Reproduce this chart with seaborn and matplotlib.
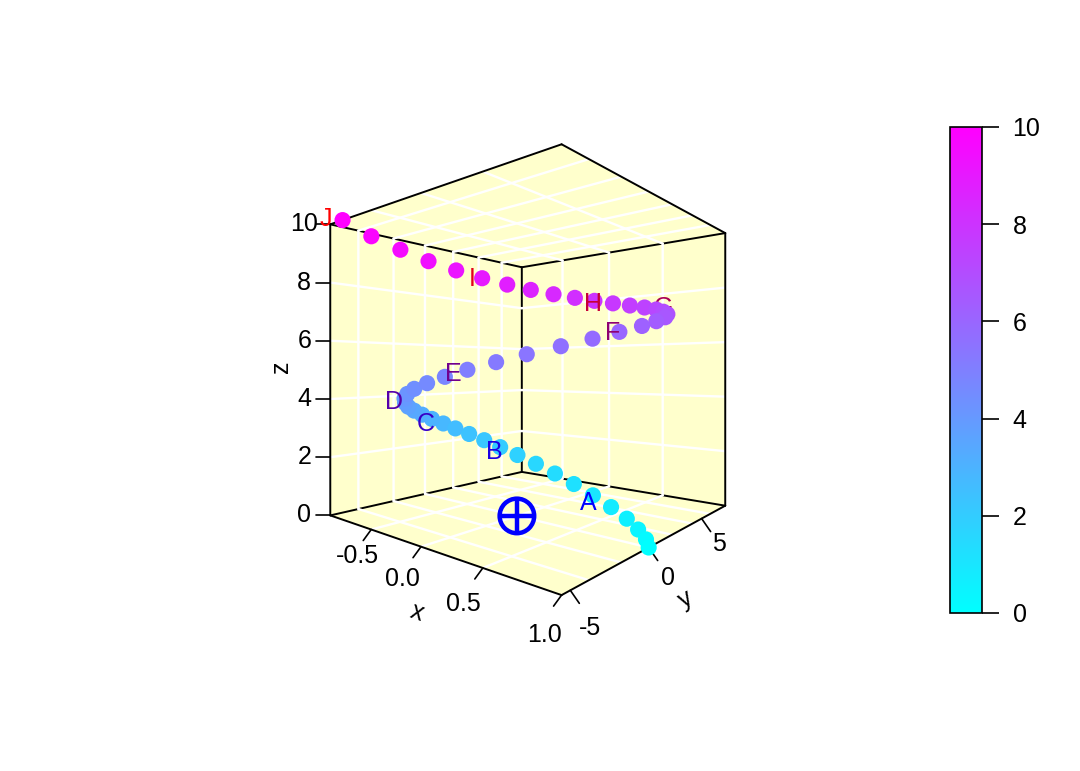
import numpy as np
import pandas as pd
import matplotlib
matplotlib.use('Agg')
import matplotlib.pyplot as plt
import seaborn as sns

# values
x_vals = [1.00, 0.98, 0.92, 0.83, 0.70, 0.54, 0.36, 0.17, -0.03, -0.23,
          -0.42, -0.59, -0.74, -0.86, -0.94, -0.99, -1.00, -0.97, -0.90, -0.79,
          -0.65, -0.49, -0.31, -0.11, 0.09, 0.28, 0.47, 0.63, 0.78, 0.89,
          0.96, 1.00, 0.99, 0.95, 0.87, 0.75, 0.61, 0.44, 0.25, 0.05,
          -0.15, -0.34, -0.52, -0.68, -0.81, -0.91, -0.97, -1.00, -0.98, -0.93, -0.84]
y_vals = [0.00, 0.04, 0.16, 0.34, 0.57, 0.84, 1.12, 1.38, 1.60, 1.75,
          1.82, 1.78, 1.62, 1.34, 0.94, 0.42, -0.19, -0.87, -1.59, -2.32,
          -3.03, -3.66, -4.19, -4.57, -4.78, -4.79, -4.59, -4.17, -3.54, -2.69,
          -1.68, -0.52, 0.75, 2.06, 3.36, 4.60, 5.72, 6.65, 7.36, 7.79,
          7.91, 7.72, 7.18, 6.31, 5.15, 3.71, 2.05, 0.24, -1.68, -3.59, -5.44]
z_vals = [0.0, 0.2, 0.4, 0.6, 0.8, 1.0, 1.2, 1.4, 1.6, 1.8,
          2.0, 2.2, 2.4, 2.6, 2.8, 3.0, 3.2, 3.4, 3.6, 3.8,
          4.0, 4.2, 4.4, 4.6, 4.8, 5.0, 5.2, 5.4, 5.6, 5.8,
          6.0, 6.2, 6.4, 6.6, 6.8, 7.0, 7.2, 7.4, 7.6, 7.8,
          8.0, 8.2, 8.4, 8.6, 8.8, 9.0, 9.2, 9.4, 9.6, 9.8, 10.0]
label_names = ['A', 'B', 'C', 'D', 'E', 'F', 'G', 'H', 'I', 'J']

x_ticks = [-0.5, 0.0, 0.5, 1.0]
y_ticks = [-5, 0, 5]
z_ticks = [0, 2, 4, 6, 8, 10]
x_grid = [-0.5, 0.0, 0.5]
y_grid = [-4, -2, 0, 2, 4, 6]
z_grid = [2, 4, 6, 8]
bar_ticks = [0, 2, 4, 6, 8, 10]

xmin, xmax = -1.0, 1.0
ymin, ymax = -5.44, 7.91
zmin, zmax = 0.0, 10.0

# box corners as they land on the image, used to fit the camera
corners = [
    (xmin, ymin, zmin, 330, 515), (xmax, ymin, zmin, 562, 595),
    (xmax, ymax, zmin, 725, 506), (xmin, ymax, zmin, 522, 472),
    (xmin, ymin, zmax, 330, 225), (xmax, ymin, zmax, 562, 144),
    (xmax, ymax, zmax, 725, 233), (xmin, ymax, zmax, 522, 267),
]
rows = []
for cx, cy, cz, u, v in corners:
    p = [cx, cy / 5, cz / 5, 1]
    rows.append(p + [0, 0, 0, 0] + [-u * a for a in p])
    rows.append([0, 0, 0, 0] + p + [-v * a for a in p])
cam = np.linalg.svd(np.array(rows, dtype=float))[2][-1].reshape(3, 4)
if cam[2, 3] < 0:
    cam = -cam


def proj(x, y, z):
    p = np.stack([np.asarray(x, float), np.asarray(y, float) / 5,
                  np.asarray(z, float) / 5, np.ones_like(np.asarray(x, float))])
    q = cam @ p
    return q[0] / q[2], q[1] / q[2], q[2]


def seg(a, b, **kw):
    u, v, _ = proj([a[0], b[0]], [a[1], b[1]], [a[2], b[2]])
    ax.plot(u, v, solid_capstyle='round', **kw)


def quad(pts):
    u, v, _ = proj(*zip(*pts))
    ax.fill(u, v, color='#FFFFCC', lw=0)


sns.set_theme(style='white')
plt.rcParams['font.family'] = ['Liberation Sans', 'DejaVu Sans']
plt.rcParams['text.color'] = 'black'

fig = plt.figure(figsize=(10.8, 7.71), dpi=100)
ax = fig.add_axes([0, 0, 1, 1])
ax.set_xlim(0, 1080)
ax.set_ylim(771, 0)
ax.axis('off')

# panels
quad([(xmin, ymin, zmin), (xmax, ymin, zmin), (xmax, ymax, zmin), (xmin, ymax, zmin)])
quad([(xmin, ymin, zmin), (xmin, ymax, zmin), (xmin, ymax, zmax), (xmin, ymin, zmax)])
quad([(xmin, ymax, zmin), (xmax, ymax, zmin), (xmax, ymax, zmax), (xmin, ymax, zmax)])
quad([(xmin, ymin, zmax), (xmax, ymin, zmax), (xmax, ymax, zmax), (xmin, ymax, zmax)])

black = dict(color='black', lw=1.4, zorder=2)
white = dict(color='white', lw=1.7, zorder=3)

# inner edges sit under the grid
seg((xmin, ymin, zmin), (xmin, ymax, zmin), **black)
seg((xmin, ymax, zmin), (xmax, ymax, zmin), **black)
seg((xmin, ymax, zmin), (xmin, ymax, zmax), **black)
seg((xmin, ymin, zmax), (xmin, ymax, zmax), **black)
seg((xmin, ymax, zmax), (xmax, ymax, zmax), **black)

for g in x_grid:
    seg((g, ymin, zmin), (g, ymax, zmin), **white)
    seg((g, ymax, zmin), (g, ymax, zmax), **white)
    seg((g, ymin, zmax), (g, ymax, zmax), **white)
for g in y_grid:
    seg((xmin, g, zmin), (xmax, g, zmin), **white)
    seg((xmin, g, zmin), (xmin, g, zmax), **white)
    seg((xmin, g, zmax), (xmax, g, zmax), **white)
for g in z_grid:
    seg((xmin, ymin, g), (xmin, ymax, g), **white)
    seg((xmin, ymax, g), (xmax, ymax, g), **white)

# outer edges on top
outer = dict(color='black', lw=1.4, zorder=4)
seg((xmin, ymin, zmin), (xmax, ymin, zmin), **outer)
seg((xmax, ymin, zmin), (xmax, ymax, zmin), **outer)
seg((xmin, ymin, zmin), (xmin, ymin, zmax), **outer)
seg((xmax, ymax, zmin), (xmax, ymax, zmax), **outer)
seg((xmin, ymin, zmax), (xmax, ymin, zmax), **outer)
seg((xmax, ymin, zmax), (xmax, ymax, zmax), **outer)

# ticks and their labels, offsets in pixels
fs = 18
x_tick_off = [(-14, 26), (-19, 32), (-19, 36), (-17, 40)]
for t, lab, off in zip(x_ticks, ['-0.5', '0.0', '0.5', '1.0'], x_tick_off):
    u, v, _ = proj(t, ymin, zmin)
    ax.plot([u, u - 8], [v, v + 11], color='black', lw=1.2, zorder=4)
    ax.text(u + off[0], v + off[1], lab, fontsize=fs, ha='center', va='center')
y_tick_off = [(20, 38), (19, 30), (17, 25)]
for t, lab, off in zip(y_ticks, ['-5', '0', '5'], y_tick_off):
    u, v, _ = proj(xmax, t, zmin)
    ax.plot([u, u + 9], [v, v + 13], color='black', lw=1.2, zorder=4)
    ax.text(u + off[0], v + off[1], lab, fontsize=fs, ha='center', va='center')
for t in z_ticks:
    u, v, _ = proj(xmin, ymin, t)
    ax.plot([u - 14, u], [v, v], color='black', lw=1.2, zorder=4)
    ax.text(u - 26, v, str(t), fontsize=fs, ha='center', va='center')

ax.text(417, 612, 'x', fontsize=fs, ha='center', va='center', rotation=-19)
ax.text(686, 599, 'y', fontsize=fs, ha='center', va='center', rotation=29)
ax.text(281, 367, 'z', fontsize=fs, ha='center', va='center', rotation=90)

# points, far ones first
u, v, w = proj(x_vals, y_vals, z_vals)
pts = pd.DataFrame({'u': u, 'v': v, 'w': w, 'z': z_vals}).sort_values('w', ascending=False)
ramp = sns.blend_palette(['#00FFFF', '#FF00FF'], as_cmap=True)
sns.scatterplot(data=pts, x='u', y='v', hue='z', hue_norm=(0, 10), palette=ramp,
                s=135, linewidth=0, legend=False, ax=ax, zorder=5)

# centre marker
u0, v0, _ = proj(0.0, 0.0, 0.0)
centre = pd.DataFrame({'u': [u0], 'v': [v0]})
sns.scatterplot(data=centre, x='u', y='v', marker='o', s=620, facecolor='none',
                edgecolor='#0000FF', linewidth=3.2, legend=False, ax=ax, zorder=6)
sns.scatterplot(data=centre, x='u', y='v', marker='+', s=620, color='#0000FF',
                linewidth=3.2, legend=False, ax=ax, zorder=6)

# letters, G goes behind the points
label_off = [(-5, 8), (-6, 5), (-6, 5), (-11, 4), (-14, 4), (-7, 1), (0, -4), (-1, 3), (-10, 1), (-17, -1)]
blue_red = sns.blend_palette(['#0000FF', '#FF0000'], n_colors=len(label_names))
for i, name in enumerate(label_names):
    k = (i + 1) * 5
    lu, lv, _ = proj(x_vals[k], y_vals[k], z_vals[k])
    ax.text(lu + label_off[i][0], lv + label_off[i][1], name, color=blue_red[i],
            fontsize=fs, ha='center', va='center', zorder=4.5 if name == 'G' else 7)

ax.set_xlabel('')
ax.set_ylabel('')
ax.set_xlim(0, 1080)
ax.set_ylim(771, 0)

# colour bar
cax = fig.add_axes([950 / 1080, 1 - 613 / 771, 32 / 1080, 486 / 771])
sm = plt.cm.ScalarMappable(norm=plt.Normalize(0, 10), cmap=ramp)
cbar = fig.colorbar(sm, cax=cax, ticks=bar_ticks)
cbar.outline.set_edgecolor('black')
cbar.outline.set_linewidth(1.2)
cbar.ax.tick_params(length=12, width=1.2, pad=10, labelsize=fs, color='black',
                    labelcolor='black', right=True)

fig.savefig('out.png', dpi=100)
